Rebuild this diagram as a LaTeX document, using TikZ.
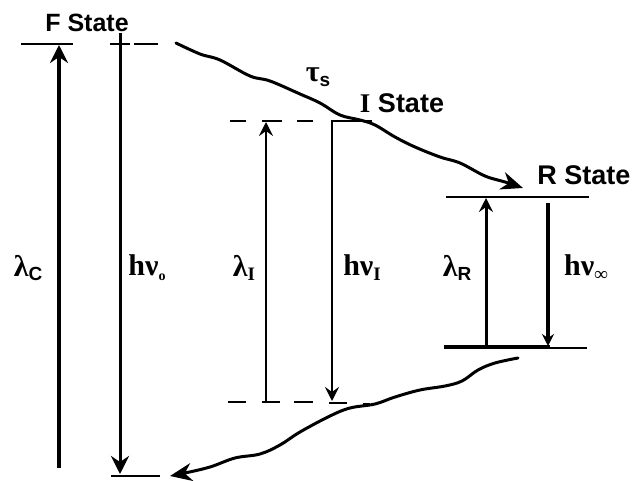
\documentclass[tikz,border=0pt]{standalone}
\usepackage{fontspec}
\setmainfont{Liberation Serif}
\newfontfamily\statefont{Liberation Sans}
\usetikzlibrary{arrows.meta}
\newcommand{\sbs}[1]{\raisebox{-0.35ex}{\fontsize{19}{19}\selectfont #1}}
\tikzset{
  lvl/.style={line width=2.2pt},
  trans/.style={line width=#1},
  tipA/.style={-{Stealth[length=18pt,width=18pt,inset=6pt]}},
  tipB/.style={-{Stealth[length=14pt,width=14pt,inset=5pt]}},
  wave/.style={line width=3pt, line cap=round},
  lbl/.style={font=\fontsize{30}{30}\selectfont\bfseries, inner sep=0pt},
  stt/.style={font=\fontsize{25}{25}\selectfont\statefont\bfseries, inner sep=0pt}
}
\begin{document}
\begin{tikzpicture}[x=1pt,y=-1pt]
\useasboundingbox (0,0) rectangle (637,481);
% states text
\node[stt] (fs) at (87,23) {F State};
\node[stt, font=\fontsize{27}{27}\selectfont\statefont\bfseries] (is) at (402,103) {{\rmfamily I} State};
\node[stt, font=\fontsize{27}{27}\selectfont\statefont\bfseries] (rs) at (584,175) {R State};
% F level
\draw[lvl] (21,44) -- (73,44);
\draw[lvl] (110,44) -- (130,44);
\draw[lvl] (134,44) -- (158,44);
% bottom of F emission
\draw[lvl] (111,476) -- (160,476);
% lambda C
\coordinate (c0) at (59,468); \coordinate (c1) at (59,45);
\draw[trans=3.6pt, tipA] (c0) -- (c1);
\node[lbl] (lc) at (28,268) {λ\sbs{\statefont\bfseries C}};
% h nu 0
\coordinate (h0) at (120,33); \coordinate (h1) at (120,474);
\draw[trans=3pt, tipA] (h0) -- (h1);
\node[lbl] (lh0) at (147,268) {hν\sbs{\fontsize{14}{14}\selectfont o}};
% I levels
\draw[lvl] (230,121) -- (246,121);
\draw[lvl] (262,121) -- (282,121);
\draw[lvl] (297,121) -- (313,121);
\draw[lvl] (331,121) -- (372,121);
\draw[lvl] (228,402) -- (246,402);
\draw[lvl] (262,402) -- (280,402);
\draw[lvl] (294,402) -- (313,402);
\draw[lvl] (329,403) -- (347,403);
\draw[lvl] (363,404) -- (370,404);
% lambda I
\coordinate (i0) at (266,401); \coordinate (i1) at (266,122);
\draw[trans=2.2pt, tipB] (i0) -- (i1);
\node[lbl] (li) at (244,268) {λ\sbs{I}};
% h nu I
\coordinate (j0) at (332,121); \coordinate (j1) at (332,401);
\draw[trans=2.6pt, tipB] (j0) -- (j1);
\node[lbl] (lhi) at (362,268) {hν\sbs{I}};
% R levels
\draw[lvl] (446,197) -- (589,197);
\draw[line width=3.4pt] (444,347) -- (550,347);
\draw[lvl] (550,348) -- (587,348);
% lambda R
\coordinate (r0) at (486,346); \coordinate (r1) at (486,198);
\draw[trans=3pt, tipB] (r0) -- (r1);
\node[lbl] (lr) at (457,268) {λ\sbs{\statefont\bfseries R}};
% h nu inf
\coordinate (s0) at (548,203); \coordinate (s1) at (548,346);
\draw[trans=3.6pt, -{Stealth[length=12pt,width=12pt,inset=4pt]}] (s0) -- (s1);
\node[lbl] (lhr) at (586,268) {hν\sbs{∞}};
% tau s
\node[lbl] (tau) at (318,77) {τ\sbs{\statefont\bfseries s}};
% top wavy
\draw[wave, -{Stealth[length=22pt,width=18pt,inset=7pt]}] plot[smooth, tension=0.6] coordinates {
 (176,43) (200,54) (220,60) (250,76) (270,81) (300,94) (320,103) (340,115) (360,120) (375,125)
 (395,137) (415,147) (440,157) (460,163) (485,176) (505,182) (523,188)};
% bottom wavy
\draw[wave, -{Stealth[length=22pt,width=18pt,inset=7pt]}] plot[smooth, tension=0.6] coordinates {
 (518,358) (495,363) (478,370) (462,381) (445,386) (420,390) (395,397) (375,404) (350,408)
 (330,416) (300,432) (280,445) (260,454) (235,458) (210,467) (185,473) (170,476)};
\end{tikzpicture}
\end{document}
